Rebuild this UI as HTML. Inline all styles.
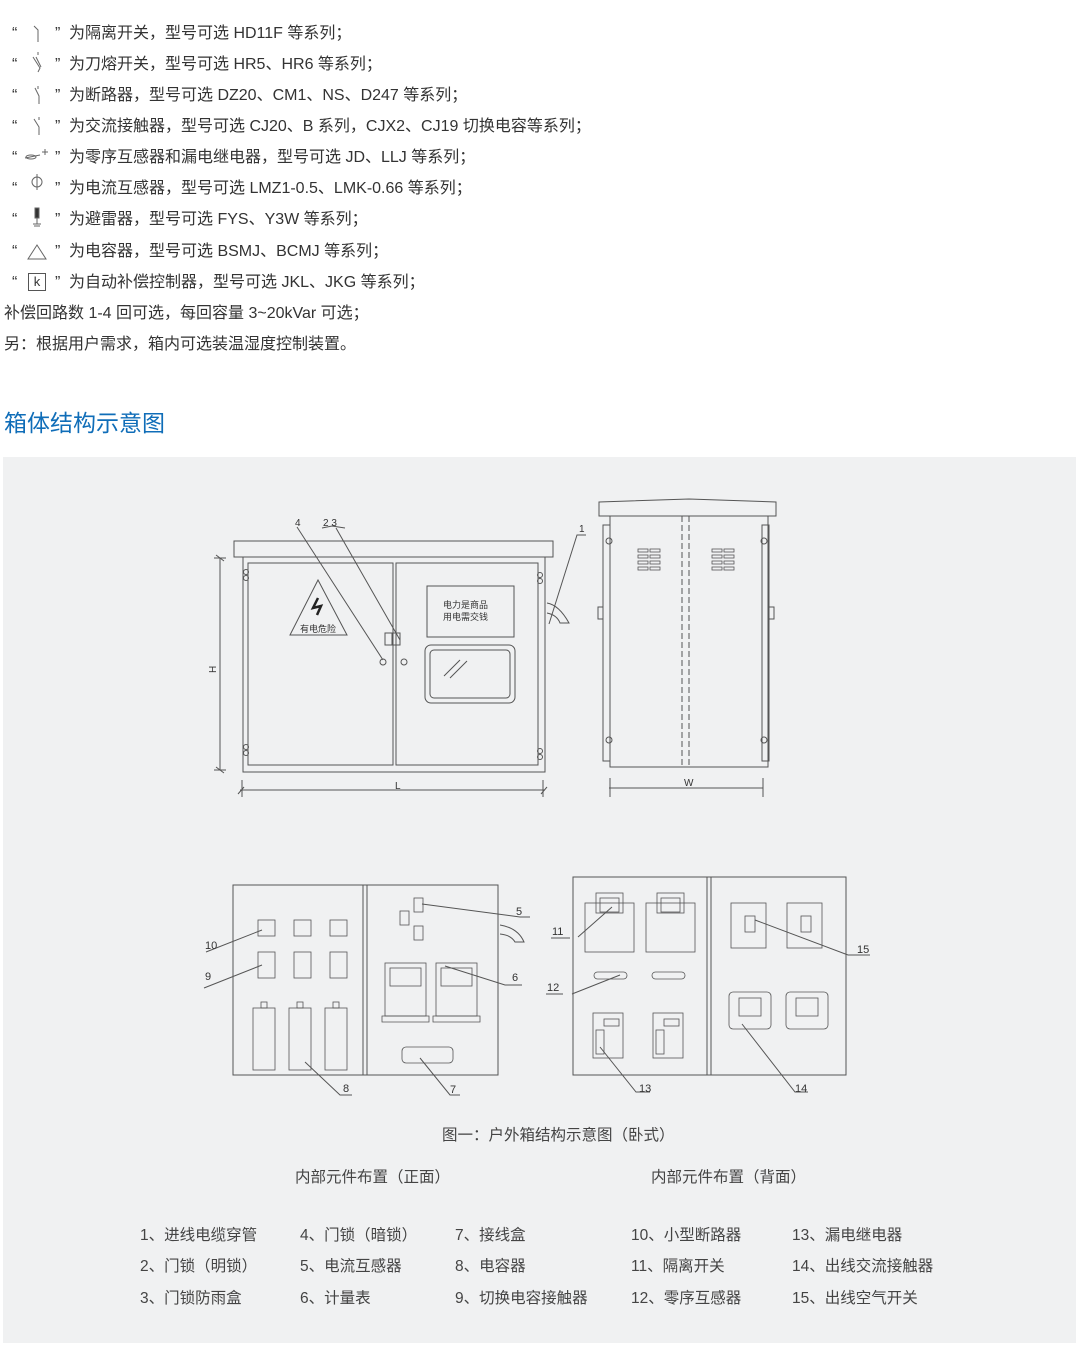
<!DOCTYPE html>
<html><head><meta charset="utf-8"><style>
*{margin:0;padding:0}
body{width:1080px;height:1349px;background:#fff;position:relative;overflow:hidden;font-family:"Liberation Sans","Noto Sans CJK SC",sans-serif;color:#333}
.t{position:absolute;font-size:16px;white-space:nowrap;line-height:20px}
#panel{position:absolute;left:3px;top:457px;width:1073px;height:886px;background:#f0f1f2}
svg{position:absolute;left:0;top:0}
.s{font-size:15.5px;position:absolute;white-space:nowrap;color:#444}
</style></head><body>
<div id="panel"></div>
<div class="t" style="left:12px;top:24px">“</div><div class="t" style="left:55px;top:24px">”</div><div class="t" style="left:69px;top:24px">为隔离开关，型号可选 HD11F 等系列；</div>
<div class="t" style="left:12px;top:55px">“</div><div class="t" style="left:55px;top:55px">”</div><div class="t" style="left:69px;top:55px">为刀熔开关，型号可选 HR5、HR6 等系列；</div>
<div class="t" style="left:12px;top:86px">“</div><div class="t" style="left:55px;top:86px">”</div><div class="t" style="left:69px;top:86px">为断路器，型号可选 DZ20、CM1、NS、D247 等系列；</div>
<div class="t" style="left:12px;top:117px">“</div><div class="t" style="left:55px;top:117px">”</div><div class="t" style="left:69px;top:117px">为交流接触器，型号可选 CJ20、B 系列，CJX2、CJ19 切换电容等系列；</div>
<div class="t" style="left:12px;top:148px">“</div><div class="t" style="left:55px;top:148px">”</div><div class="t" style="left:69px;top:148px">为零序互感器和漏电继电器，型号可选 JD、LLJ 等系列；</div>
<div class="t" style="left:12px;top:179px">“</div><div class="t" style="left:55px;top:179px">”</div><div class="t" style="left:69px;top:179px">为电流互感器，型号可选 LMZ1-0.5、LMK-0.66 等系列；</div>
<div class="t" style="left:12px;top:210px">“</div><div class="t" style="left:55px;top:210px">”</div><div class="t" style="left:69px;top:210px">为避雷器，型号可选 FYS、Y3W 等系列；</div>
<div class="t" style="left:12px;top:242px">“</div><div class="t" style="left:55px;top:242px">”</div><div class="t" style="left:69px;top:242px">为电容器，型号可选 BSMJ、BCMJ 等系列；</div>
<div class="t" style="left:12px;top:273px">“</div><div class="t" style="left:55px;top:273px">”</div><div class="t" style="left:69px;top:273px">为自动补偿控制器，型号可选 JKL、JKG 等系列；</div>
<div class="t" style="left:28px;top:273px;width:16px;height:16px;border:1px solid #555;font-size:13px;line-height:16px;text-align:center">k</div>
<div class="t" style="left:4px;top:304px">补偿回路数 1-4 回可选，每回容量 3~20kVar 可选；</div>
<div class="t" style="left:4px;top:335px">另：根据用户需求，箱内可选装温湿度控制装置。</div>
<div class="t" style="left:4px;top:408px;font-size:23px;line-height:30px;color:#0f6db8">箱体结构示意图</div>

<svg width="1080" height="1349" fill="none" stroke="#666" stroke-width="1">
<path d="M34 26 L38 30 L38 42"/>
<path d="M33 57 L40 68 L38 72 M36 57 L41 67 M38 52v3"/>
<path d="M35 88 L39 96 L39 104 M38 86v3"/>
<path d="M34 119 L39 127 L39 135 M39 117v3"/>
<path d="M25 158 L40 155 M42 152h6 M45 149v6" />
<ellipse cx="31" cy="157" rx="5" ry="2"/>
<circle cx="37" cy="182" r="5"/><path d="M37 174v16"/>
<rect x="35" y="208" width="4" height="10" fill="#333"/><path d="M37 218v6 M33 224h8 M34 226h6"/>
<path d="M28 259 L37 245 L46 259Z"/>
</svg>

<svg width="1080" height="1349" fill="none" stroke="#555" stroke-width="1" font-family="Liberation Sans, Noto Sans CJK SC, sans-serif">
<rect x="234" y="541" width="319" height="16"/>
<rect x="243" y="557" width="302" height="215"/>
<rect x="248" y="563" width="145" height="202"/>
<rect x="396" y="563" width="142" height="202"/>
<circle cx="246" cy="572" r="2.5"/><circle cx="246" cy="578" r="2.5"/><circle cx="246" cy="747" r="2.5"/><circle cx="246" cy="753" r="2.5"/>
<circle cx="540" cy="575" r="2.5"/><circle cx="540" cy="581" r="2.5"/><circle cx="540" cy="751" r="2.5"/><circle cx="540" cy="757" r="2.5"/>
<path d="M318 580 L290 635 L347 635Z"/>
<path d="M318 598 L313 608 L321 606 L317 615" stroke="#222" stroke-width="2.5"/>
<text x="300" y="632" font-size="9" fill="#333" stroke="none">有电危险</text>
<rect x="427" y="586" width="87" height="51"/>
<text x="443" y="608" font-size="9" fill="#333" stroke="none">电力是商品</text>
<text x="443" y="620" font-size="9" fill="#333" stroke="none">用电需交钱</text>
<rect x="425" y="645" width="90" height="58" rx="6"/>
<rect x="430" y="650" width="80" height="48" rx="4"/>
<path d="M444 676 L460 660 M450 678 L467 661"/>
<rect x="385" y="633" width="7" height="12"/><rect x="393" y="633" width="7" height="12"/>
<circle cx="383" cy="662" r="3"/><circle cx="404" cy="662" r="3"/>
<path d="M545 600 v20 M547 603 q12 2 22 20 h-9 q-3-8-13-10"/>
<path d="M297 527 L383 660 M336 528 L400 640 M322 528 L332 526 L345 528 M549 624 L577 535 L586 535"/>
<text x="295" y="526" font-size="10" fill="#333" stroke="none">4</text>
<text x="323" y="526" font-size="10" fill="#333" stroke="none">2 3</text>
<text x="579" y="532" font-size="10" fill="#333" stroke="none">1</text>
<path d="M220 558 V770 M214 558 h12 M214 770 h12 M216 555l8 6 M216 767l8 6"/>
<text x="216" y="673" font-size="10" fill="#333" stroke="none" transform="rotate(-90 216 673)">H</text>
<path d="M240 790 H545 M242 780 v17 M543 780 v17 M238 794l6-7 M541 794l6-7"/>
<text x="395" y="789" font-size="10" fill="#333" stroke="none">L</text>
<path d="M599 502 L689 499 L776 502 V516 H599Z"/>
<rect x="610" y="516" width="158" height="251"/>
<rect x="603" y="525" width="7" height="236"/><rect x="762" y="525" width="7" height="236"/>
<circle cx="609" cy="541" r="3"/><circle cx="609" cy="740" r="3"/><circle cx="764" cy="541" r="3"/><circle cx="764" cy="740" r="3"/>
<rect x="598" y="607" width="5" height="12"/><rect x="769" y="607" width="5" height="12"/>
<path d="M682 516 V767 M689 516 V767" stroke-dasharray="6 3"/>
<g stroke-width="0.8">
<rect x="638" y="549" width="10" height="3"/><rect x="650" y="549" width="10" height="3"/>
<rect x="638" y="555" width="10" height="3"/><rect x="650" y="555" width="10" height="3"/>
<rect x="638" y="561" width="10" height="3"/><rect x="650" y="561" width="10" height="3"/>
<rect x="638" y="567" width="10" height="3"/><rect x="650" y="567" width="10" height="3"/>
<rect x="712" y="549" width="10" height="3"/><rect x="724" y="549" width="10" height="3"/>
<rect x="712" y="555" width="10" height="3"/><rect x="724" y="555" width="10" height="3"/>
<rect x="712" y="561" width="10" height="3"/><rect x="724" y="561" width="10" height="3"/>
<rect x="712" y="567" width="10" height="3"/><rect x="724" y="567" width="10" height="3"/>
</g>
<path d="M609 788 H763 M610 778 v19 M763 778 v19"/>
<text x="684" y="786" font-size="10" fill="#333" stroke="none">W</text>

<rect x="233" y="885" width="265" height="190"/>
<path d="M363 885 V1075 M367 885 V1075"/>
<g stroke-width="0.8">
<rect x="258" y="920" width="17" height="16"/><rect x="294" y="920" width="17" height="16"/><rect x="330" y="920" width="17" height="16"/>
<rect x="258" y="952" width="17" height="26"/><rect x="294" y="952" width="17" height="26"/><rect x="330" y="952" width="17" height="26"/>
<rect x="253" y="1008" width="22" height="62"/><rect x="289" y="1008" width="22" height="62"/><rect x="325" y="1008" width="22" height="62"/>
<rect x="261" y="1002" width="6" height="6"/><rect x="297" y="1002" width="6" height="6"/><rect x="333" y="1002" width="6" height="6"/>
<rect x="414" y="898" width="9" height="14"/><rect x="400" y="911" width="9" height="14"/><rect x="414" y="926" width="9" height="14"/>
<rect x="385" y="963" width="41" height="53"/><rect x="390" y="968" width="31" height="18"/><path d="M382 1016h47v6h-47z"/>
<rect x="436" y="963" width="41" height="53"/><rect x="441" y="968" width="31" height="18"/><path d="M433 1016h47v6h-47z"/>
<rect x="402" y="1047" width="51" height="16" rx="4"/>
</g>
<path d="M498 923 v16 M500 925 q18 3 24 17 h-9 q-4-7-15-8"/>
<path d="M422 904 L520 917 L530 917 M445 966 L505 985 L522 985 M206 952 L262 930 M204 988 L262 965 M305 1062 L340 1095 L352 1095 M420 1058 L450 1095 L460 1095"/>
<text x="516" y="915" font-size="11" fill="#333" stroke="none">5</text>
<text x="512" y="981" font-size="11" fill="#333" stroke="none">6</text>
<text x="205" y="949" font-size="11" fill="#333" stroke="none">10</text>
<text x="205" y="980" font-size="11" fill="#333" stroke="none">9</text>
<text x="343" y="1092" font-size="11" fill="#333" stroke="none">8</text>
<text x="450" y="1093" font-size="11" fill="#333" stroke="none">7</text>

<rect x="573" y="877" width="273" height="198"/>
<path d="M707 877 V1075 M711 877 V1075"/>
<g stroke-width="0.8">
<rect x="585" y="903" width="49" height="49"/><rect x="596" y="893" width="27" height="20"/><rect x="600" y="898" width="19" height="14"/>
<rect x="646" y="903" width="49" height="49"/><rect x="657" y="893" width="27" height="20"/><rect x="661" y="898" width="19" height="14"/>
<rect x="594" y="972" width="33" height="7" rx="3.5"/><rect x="652" y="972" width="33" height="7" rx="3.5"/>
<rect x="593" y="1013" width="30" height="45"/><rect x="604" y="1019" width="15" height="7"/><rect x="596" y="1030" width="8" height="24"/>
<rect x="653" y="1013" width="30" height="45"/><rect x="664" y="1019" width="15" height="7"/><rect x="656" y="1030" width="8" height="24"/>
<rect x="731" y="903" width="35" height="45"/><rect x="745" y="916" width="10" height="16"/>
<rect x="787" y="903" width="35" height="45"/><rect x="801" y="916" width="10" height="16"/>
<rect x="729" y="992" width="42" height="37" rx="4"/><rect x="739" y="998" width="22" height="18"/>
<rect x="786" y="992" width="42" height="37" rx="4"/><rect x="796" y="998" width="22" height="18"/>
</g>
<path d="M578 937 L612 907 M572 994 L620 975 M600 1047 L636 1092 L650 1092 M742 1024 L795 1092 L808 1092 M755 920 L848 955 L870 955 M551 938 L570 938 M546 994 L563 994"/>
<text x="552" y="935" font-size="11" fill="#333" stroke="none">11</text>
<text x="547" y="991" font-size="11" fill="#333" stroke="none">12</text>
<text x="639" y="1092" font-size="11" fill="#333" stroke="none">13</text>
<text x="795" y="1092" font-size="11" fill="#333" stroke="none">14</text>
<text x="857" y="953" font-size="11" fill="#333" stroke="none">15</text>
</svg>

<div class="s" style="left:442px;top:1123px">图一：户外箱结构示意图（卧式）</div>
<div class="s" style="left:295px;top:1165px">内部元件布置（正面）</div>
<div class="s" style="left:651px;top:1165px">内部元件布置（背面）</div>
<div class="s" style="left:140px;top:1223px">1、进线电缆穿管</div>
<div class="s" style="left:140px;top:1254px">2、门锁（明锁）</div>
<div class="s" style="left:140px;top:1286px">3、门锁防雨盒</div>
<div class="s" style="left:300px;top:1223px">4、门锁（暗锁）</div>
<div class="s" style="left:300px;top:1254px">5、电流互感器</div>
<div class="s" style="left:300px;top:1286px">6、计量表</div>
<div class="s" style="left:455px;top:1223px">7、接线盒</div>
<div class="s" style="left:455px;top:1254px">8、电容器</div>
<div class="s" style="left:455px;top:1286px">9、切换电容接触器</div>
<div class="s" style="left:631px;top:1223px">10、小型断路器</div>
<div class="s" style="left:631px;top:1254px">11、隔离开关</div>
<div class="s" style="left:631px;top:1286px">12、零序互感器</div>
<div class="s" style="left:792px;top:1223px">13、漏电继电器</div>
<div class="s" style="left:792px;top:1254px">14、出线交流接触器</div>
<div class="s" style="left:792px;top:1286px">15、出线空气开关</div>
</body></html>
